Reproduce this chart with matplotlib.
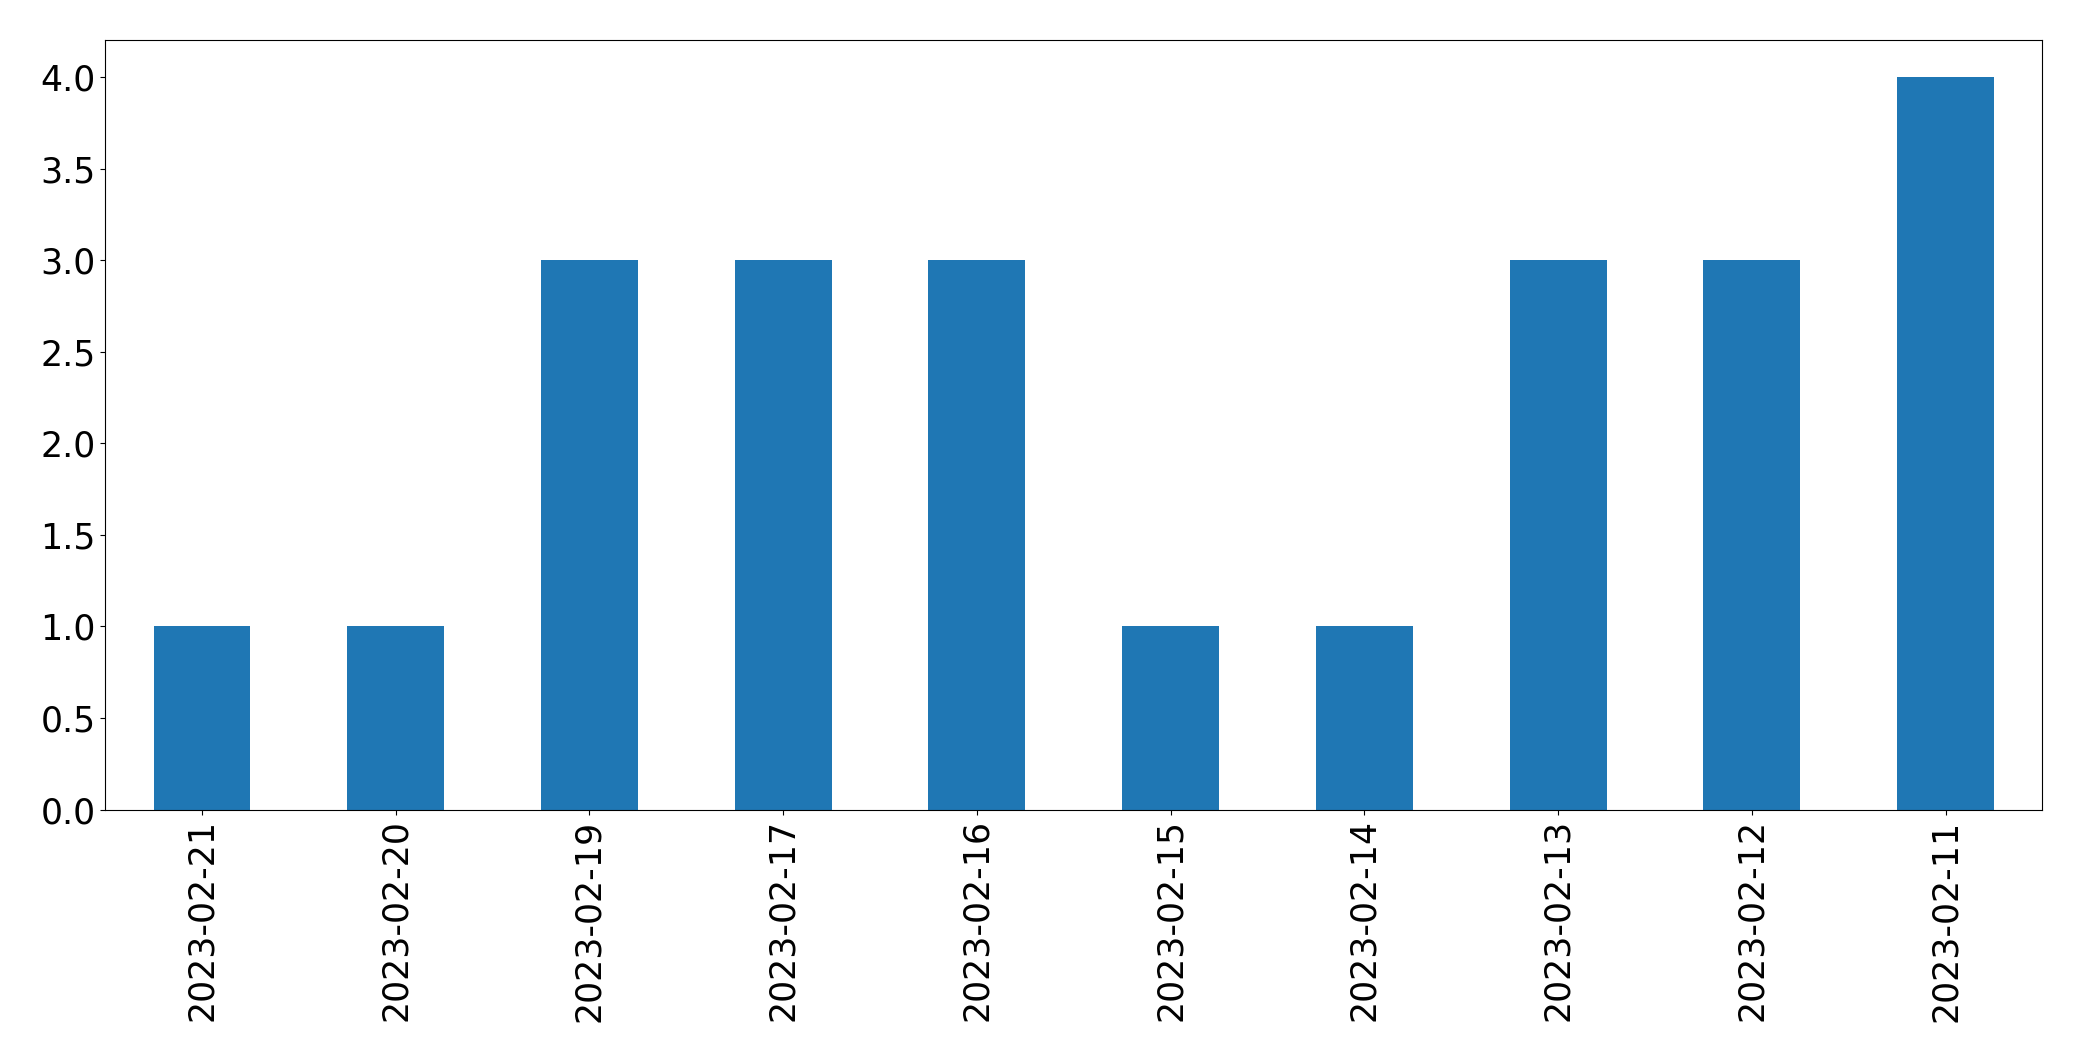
import matplotlib
matplotlib.use("Agg")
import matplotlib.pyplot as plt
import pandas as pd

# dates as they appear on the x axis (newest first)
dates = ['2023-02-21', '2023-02-20', '2023-02-19', '2023-02-17', '2023-02-16',
         '2023-02-15', '2023-02-14', '2023-02-13', '2023-02-12', '2023-02-11']
counts = [1, 1, 3, 3, 3, 1, 1, 3, 3, 4]

s = pd.Series(counts, index=dates)

fig, ax = plt.subplots(figsize=(20.82, 10.61), dpi=100)
s.plot(kind='bar', ax=ax, color='#1f77b4')
ax.tick_params(axis='both', labelsize=25)
plt.subplots_adjust(left=0.0505, right=0.981, top=0.962, bottom=0.237)
fig.savefig('out.png', dpi=100)
